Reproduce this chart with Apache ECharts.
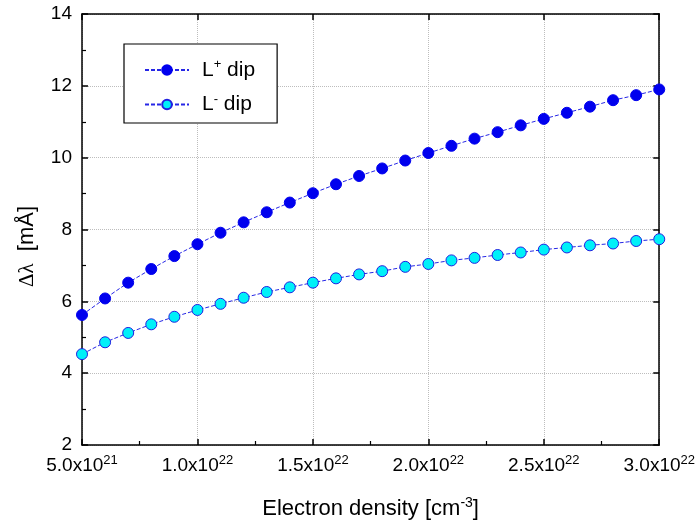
<!DOCTYPE html>
<html>
<head>
<meta charset="utf-8">
<script src="https://cdn.jsdelivr.net/npm/echarts@6/dist/echarts.min.js"></script>
<style>
  html,body{margin:0;padding:0;background:#fff;}
  #chart{width:698px;height:528px;}
</style>
</head>
<body>
<div id="chart"></div>
<script>
// electron density, cm^-3
var density = [5e21, 6e21, 7e21, 8e21, 9e21, 1.0e22, 1.1e22, 1.2e22, 1.3e22, 1.4e22, 1.5e22,
  1.6e22, 1.7e22, 1.8e22, 1.9e22, 2.0e22, 2.1e22, 2.2e22, 2.3e22, 2.4e22, 2.5e22,
  2.6e22, 2.7e22, 2.8e22, 2.9e22, 3.0e22];
// dip shift, mA
var lPlus = [5.62, 6.08, 6.52, 6.90, 7.26, 7.59, 7.91, 8.20, 8.48, 8.75, 9.01,
  9.26, 9.49, 9.70, 9.92, 10.13, 10.33, 10.53, 10.71, 10.90, 11.08,
  11.25, 11.42, 11.60, 11.74, 11.90];
var lMinus = [4.53, 4.86, 5.12, 5.36, 5.57, 5.76, 5.93, 6.10, 6.26, 6.39, 6.52,
  6.64, 6.75, 6.84, 6.96, 7.04, 7.14, 7.21, 7.29, 7.36, 7.44,
  7.50, 7.56, 7.61, 7.68, 7.73];
var seriesNames = ['L+ dip', 'L- dip'];

function zip(xs, ys){
  var res = [];
  for (var i = 0; i < xs.length; i++) res.push([xs[i], ys[i]]);
  return res;
}

// 5.0x10^21 style labels
function sciLabel(v){
  var e = Math.floor(Math.log10(v) + 1e-9);
  var m = (v / Math.pow(10, e)).toFixed(1);
  return '{b|' + m + 'x10}{s|' + e + '}';
}

var font = '"Liberation Sans", Arial, sans-serif';
var tickRich = {
  b: {fontFamily: font, fontSize: 19, color: '#000'},
  s: {fontFamily: font, fontSize: 13, color: '#000', padding: [0, 0, 11, 0]}
};

var frameLine = {show: true, lineStyle: {color: '#000', width: 1.5}};
var gridLine = {show: true, lineStyle: {color: '#bdbdbd', width: 1, type: 'dotted'}};

var chart = echarts.init(document.getElementById('chart'));
var option = {
  animation: false,
  backgroundColor: '#fff',
  grid: {left: 82, right: 38, top: 14, bottom: 83},
  legend: {
    left: 124, top: 44,
    orient: 'vertical',
    data: seriesNames,
    backgroundColor: '#fff',
    borderColor: '#000', borderWidth: 1.2,
    padding: [14, 22, 8, 20],
    itemWidth: 44, itemHeight: 12, itemGap: 12,
    formatter: function(name){
      return '{p|}{a|L}{s|' + (name.indexOf('+') >= 0 ? '+' : '-') + '}{a| dip}';
    },
    textStyle: {
      rich: {
        p: {width: 8},
        a: {fontFamily: font, fontSize: 21, color: '#000'},
        s: {fontFamily: font, fontSize: 13, color: '#000', padding: [0, 0, 11, 0]}
      }
    }
  },
  xAxis: [{
    type: 'value', min: 5e21, max: 3e22, interval: 5e21,
    name: 'Electron density [cm{s|-3}]',
    nameLocation: 'middle', nameGap: 51,
    nameTextStyle: {fontFamily: font, fontSize: 22, color: '#000',
      rich: {s: {fontFamily: font, fontSize: 14, color: '#000', padding: [0, 0, 12, 0]}}},
    axisLine: frameLine,
    axisTick: {show: true, inside: true, length: 6, lineStyle: {color: '#000', width: 1.5}},
    minorTick: {show: true, splitNumber: 2, length: 4, lineStyle: {color: '#000', width: 1.2}},
    axisLabel: {formatter: sciLabel, rich: tickRich, margin: 9},
    splitLine: gridLine
  }, {
    type: 'value', min: 5e21, max: 3e22, interval: 5e21, position: 'top',
    axisLine: frameLine,
    axisTick: {show: true, inside: true, length: 6, lineStyle: {color: '#000', width: 1.5}},
    axisLabel: {show: false}, splitLine: {show: false}
  }],
  yAxis: [{
    type: 'value', min: 2, max: 14, interval: 2,
    name: '{g|\u0394\u03bb}  [m\u00c5]',
    nameLocation: 'middle', nameGap: 44,
    nameTextStyle: {fontFamily: font, fontSize: 22, color: '#000', padding: [0, 34, 0, 0],
      rich: {g: {fontFamily: '"Liberation Serif", serif', fontSize: 21, color: '#000'}}},
    axisLine: frameLine,
    axisTick: {show: true, inside: true, length: 6, lineStyle: {color: '#000', width: 1.5}},
    minorTick: {show: true, splitNumber: 2, length: 4, lineStyle: {color: '#000', width: 1.2}},
    axisLabel: {fontFamily: font, fontSize: 19, color: '#000', margin: 10},
    splitLine: gridLine
  }, {
    type: 'value', min: 2, max: 14, interval: 2, position: 'right',
    axisLine: frameLine,
    axisTick: {show: true, inside: true, length: 6, lineStyle: {color: '#000', width: 1.5}},
    axisLabel: {show: false}, splitLine: {show: false}
  }],
  series: [{
    name: seriesNames[0], type: 'line',
    data: zip(density, lPlus),
    symbol: 'circle', symbolSize: 11,
    lineStyle: {color: '#2626e6', width: 1, type: [4, 2]},
    itemStyle: {color: '#0000ee', borderColor: '#0000ee', borderWidth: 1}
  }, {
    name: seriesNames[1], type: 'line',
    data: zip(density, lMinus),
    symbol: 'circle', symbolSize: 11,
    lineStyle: {color: '#2626e6', width: 1, type: [4, 2]},
    itemStyle: {color: '#00f0f8', borderColor: '#2020e0', borderWidth: 1}
  }]
};
chart.setOption(option);
</script>
</body>
</html>
